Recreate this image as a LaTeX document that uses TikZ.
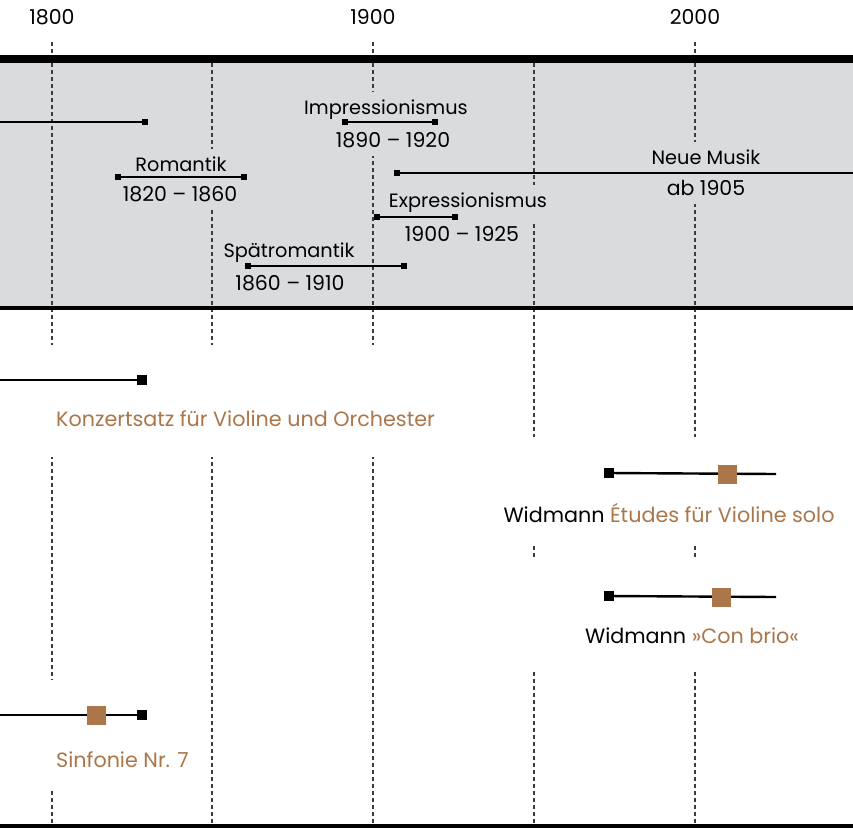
\documentclass[tikz,border=0pt]{standalone}
\usepackage{fontspec}
\setmainfont{Poppins}
\usetikzlibrary{positioning}
\definecolor{bandgray}{HTML}{DADBDD}
\definecolor{workbrown}{HTML}{AB7649}
\definecolor{gridgray}{HTML}{3C3C3C}
\tikzset{era/.style={fill=bandgray, inner xsep=2pt, inner ysep=8pt, font=\fontsize{19.3}{22}\selectfont}, erayears/.style={era, font=\fontsize{20.5}{24}\selectfont}, period/.style={line width=1.1pt}, endmark/.style={fill=black, inner sep=0pt, minimum size=6pt}, work/.style={line width=2.4pt}, workend/.style={fill=black, inner sep=0pt, minimum size=10pt}, keymark/.style={fill=workbrown, inner sep=0pt, minimum size=19pt}, worktitle/.style={inner sep=0pt, font=\fontsize{20.7}{24}\selectfont}, grid/.style={draw=gridgray, line width=1.2pt, dash pattern=on 4pt off 3pt}, year/.style={font=\fontsize{20.5}{24}\selectfont}}

\begin{document}
\begin{tikzpicture}[x=1pt,y=-1pt]
    \useasboundingbox (0,0) rectangle (853,828);
    % band of eras
    \fill[bandgray] (0,60) rectangle (853,307);
    \foreach \x in {52,373,695} \draw[grid] (\x,42) -- (\x,826);
    \foreach \x in {212,534} \draw[grid] (\x,63) -- (\x,826);
    \draw[line width=8pt] (0,59) -- (853,59);
    \draw[line width=4pt] (0,308) -- (853,308);
    \draw[line width=4pt] (0,826) -- (853,826);

    \node[year] (y1800) at (52,17)  {1800};
    \node[year] (y1900) at (373,17) {1900};
    \node[year] (y2000) at (695,17) {2000};

    % rows of works
    \fill[white] (0,345) rectangle (442,457);
    \fill[white] (482,437) rectangle (853,545);
    \fill[white] (482,558) rectangle (853,670);
    \fill[white] (0,680) rectangle (200,790);

    % era labels
    \node[era]      (impr)   at (386,110) {Impressionismus};
    \node[erayears] (imprY)  at (393,140) {1890 – 1920};
    \node[era]      (rom)    at (181,164) {Romantik};
    \node[erayears] (romY)   at (180,194) {1820 – 1860};
    \node[era]      (neu)    at (706,157) {Neue Musik};
    \node[erayears] (neuY)   at (706,188) {ab 1905};
    \node[era]      (expr)   at (468,203) {Expressionismus};
    \node[erayears] (exprY)  at (462,234) {1900 – 1925};
    \node[era]      (spaet)  at (289,253) {Spätromantik};
    \node[erayears] (spaetY) at (290,283) {1860 – 1910};

    % era spans
    \coordinate (klass0) at (0,122);
    \node[endmark] (klass1) at (145,122) {};
    \draw[period] (klass0) -- (klass1);
    \node[endmark] (impr1) at (345,122) {};
    \node[endmark] (impr2) at (435,122) {};
    \draw[period] (impr1) -- (impr2);
    \node[endmark] (rom1) at (118,177) {};
    \node[endmark] (rom2) at (244,177) {};
    \draw[period] (rom1) -- (rom2);
    \node[endmark] (neu1) at (397,173) {};
    \coordinate (neu2) at (853,173);
    \draw[period] (neu1) -- (neu2);
    \node[endmark] (expr1) at (377,217) {};
    \node[endmark] (expr2) at (455,217) {};
    \draw[period] (expr1) -- (expr2);
    \node[endmark] (spaet1) at (248,266) {};
    \node[endmark] (spaet2) at (404,266) {};
    \draw[period] (spaet1) -- (spaet2);

    % works
    \coordinate (konz0) at (0,380);
    \node[workend] (konz1) at (142,380) {};
    \draw[work] (konz0) -- (konz1);
    \node[worktitle, text=workbrown, anchor=west] (konzT) at (56,419) {Konzertsatz für Violine und Orchester};

    \node[workend] (etud1) at (609,473) {};
    \coordinate (etud2) at (776,474);
    \draw[work] (etud1) -- (etud2);
    \node[keymark] (etudK) at (727,474) {};
    \node[worktitle] (etudT) at (669,513) {Widmann \textcolor{workbrown}{Études für Violine solo}};

    \node[workend] (brio1) at (609,596) {};
    \coordinate (brio2) at (776,597);
    \draw[work] (brio1) -- (brio2);
    \node[keymark] (brioK) at (721,597) {};
    \node[worktitle] (brioT) at (692,636) {Widmann \textcolor{workbrown}{»Con brio«}};

    \coordinate (sinf0) at (0,715);
    \node[workend] (sinf1) at (142,715) {};
    \draw[work] (sinf0) -- (sinf1);
    \node[keymark] (sinfK) at (96,715) {};
    \node[worktitle, text=workbrown, anchor=west] (sinfT) at (56,760) {Sinfonie Nr. 7};
\end{tikzpicture}
\end{document}
